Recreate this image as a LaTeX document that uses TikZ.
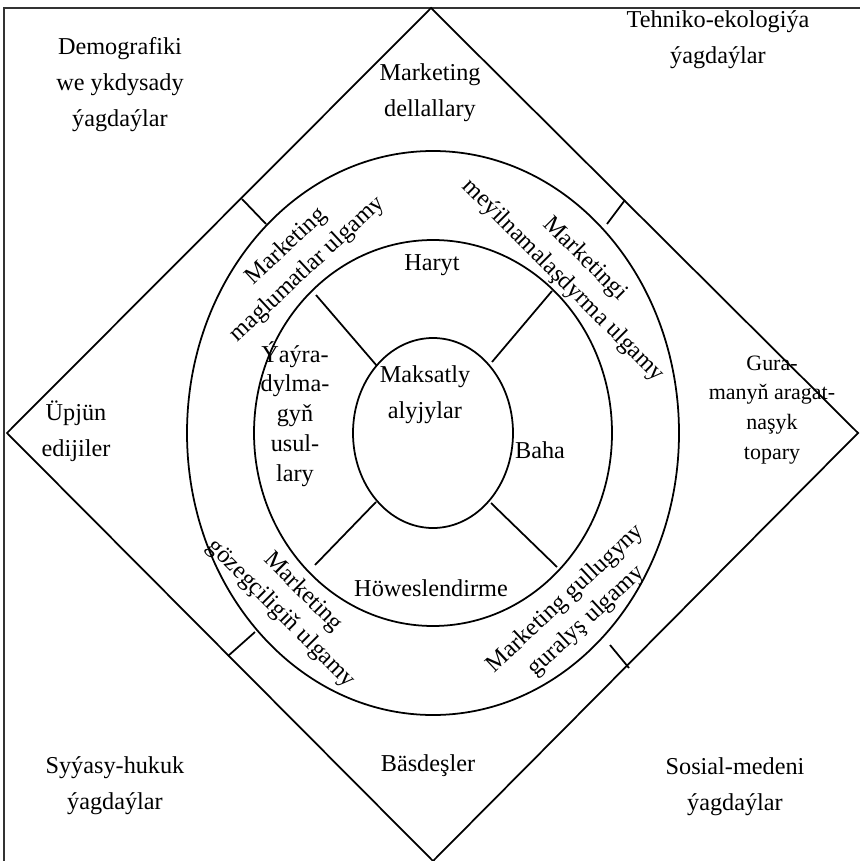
\documentclass[tikz,border=0pt]{standalone}
\usepackage{fontspec}
\setmainfont{Liberation Serif}
\begin{document}
\begin{tikzpicture}[x=0.02cm, y=-0.02cm, font=\fontsize{13.8}{20.5}\selectfont, frame line/.style={draw=black!80, line width=1.2pt}, ring style/.style={draw=black, line width=1pt}, divider style/.style={draw=black, line width=1pt}, text style/.style={align=center, inner sep=0pt}, tight text/.style={align=center, inner sep=0pt, font=\fontsize{13.8}{17}\selectfont}, small text/.style={align=center, inner sep=0pt, font=\fontsize{12.5}{17}\selectfont}, arc text/.style={align=center, inner sep=0pt, font=\fontsize{13.8}{17.5}\selectfont}]

    \useasboundingbox (0,0) rectangle (860,861);

    % =========================================================================
    % Marka: ramka, romb we halkalar
    % =========================================================================
    \draw[frame line] (4,861) -- (4,8) -- (860,8);

    \coordinate (dtop) at (431,8);
    \coordinate (dright) at (858,433);
    \coordinate (dbottom) at (433,861);
    \coordinate (dleft) at (7,433);
    \draw[ring style] (dtop) -- (dright) -- (dbottom) -- (dleft) -- cycle;

    \coordinate (c) at (433,433);
    \draw[ring style] (c) ellipse [x radius=246, y radius=282];
    \draw[ring style] (c) ellipse [x radius=179, y radius=193];
    \draw[ring style] (c) ellipse [x radius=80, y radius=95];

    % Romb bilen dasky halkanyn arasy
    \coordinate (o1) at (242,199); \coordinate (o1e) at (266,224);
    \coordinate (o2) at (625,200); \coordinate (o2e) at (607,224);
    \coordinate (o3) at (228,656); \coordinate (o3e) at (255,632);
    \coordinate (o4) at (629,668); \coordinate (o4e) at (610,645);
    \draw[divider style] (o1) -- (o1e);
    \draw[divider style] (o2) -- (o2e);
    \draw[divider style] (o3) -- (o3e);
    \draw[divider style] (o4) -- (o4e);

    % Orta halka bilen icki halkanyn arasy
    \coordinate (m1) at (316,295); \coordinate (m1e) at (377,366);
    \coordinate (m2) at (552,291); \coordinate (m2e) at (492,362);
    \coordinate (m3) at (315,565); \coordinate (m3e) at (376,502);
    \coordinate (m4) at (557,567); \coordinate (m4e) at (491,503);
    \draw[divider style] (m1) -- (m1e);
    \draw[divider style] (m2) -- (m2e);
    \draw[divider style] (m3) -- (m3e);
    \draw[divider style] (m4) -- (m4e);

    % =========================================================================
    % Yazgylar
    % =========================================================================
    \node[text style] (demo) at (120,85) {Demografiki\\we ykdysady\\ýagdaýlar};
    \node[text style] (tehno) at (718,40) {Tehniko-ekologiýa\\ýagdaýlar};
    \node[text style] (dellal) at (430,93) {Marketing\\dellallary};
    \node[text style] (upjun) at (76,431) {Üpjün\\edijiler};
    \node[small text] (gura) at (772,410) {Gura-\\manyň aragat-\\naşyk\\topary};
    \node[text style] (syyasy) at (115,786) {Syýasy-hukuk\\ýagdaýlar};
    \node[text style] (basdes) at (428,766) {Bäsdeşler};
    \node[text style] (sosial) at (735,787) {Sosial-medeni\\ýagdaýlar};

    \node[arc text, rotate=43] (maglumat) at (297,258) {Marketing\\maglumatlar ulgamy};
    \node[arc text, rotate=-45] (meyil) at (574,270) {Marketingi\\meýilnamalaşdyrma ulgamy};
    \node[arc text, rotate=-45] (gozeg) at (292,603) {Marketing\\gözegçiligiň ulgamy};
    \node[arc text, rotate=43] (gullug) at (576,610) {Marketing gullugyny\\guralyş ulgamy};

    \node[text style] (haryt) at (432,265) {Haryt};
    \node[text style] (baha) at (540,450) {Baha};
    \node[text style] (howes) at (431,588) {Höweslendirme};
    \node[tight text] (yayra) at (295,414) {Ýaýra-\\dylma-\\gyň\\usul-\\lary};
    \node[text style] (maksat) at (425,395) {Maksatly\\alyjylar};

\end{tikzpicture}
\end{document}
